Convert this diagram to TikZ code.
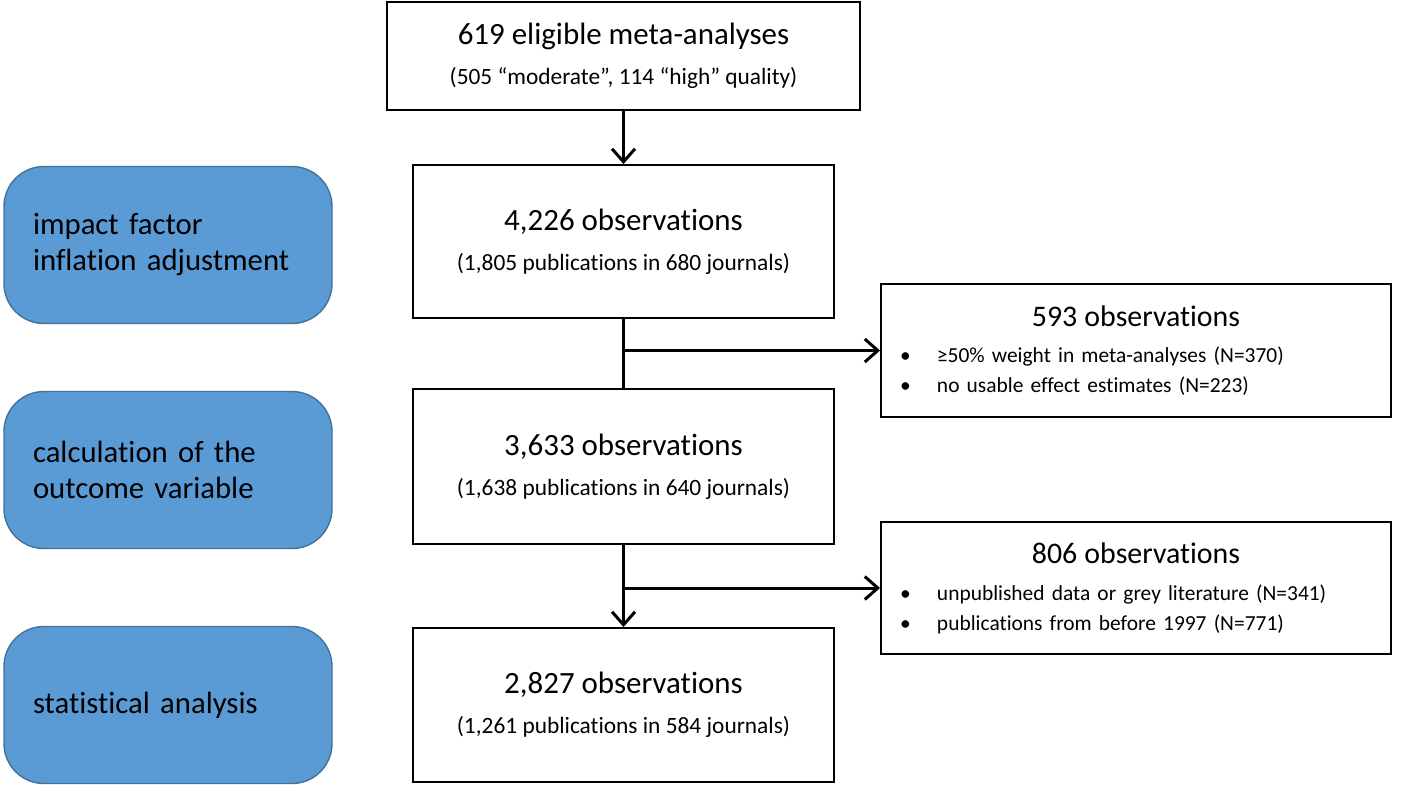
\documentclass[tikz,border=0pt]{standalone}
\usepackage{fontspec}
\setmainfont{Carlito}[Ligatures=NoCommon]
\usepackage{xcolor}
\usetikzlibrary{arrows.meta}
\definecolor{stageblue}{HTML}{5B9BD5}
\definecolor{stageedge}{HTML}{41719C}
\newcommand{\bigtxt}{\fontsize{17.6}{19}\selectfont}
\newcommand{\exttl}{\fontsize{17}{19}\selectfont}
\newcommand{\bulletline}[1]{\makebox[\linewidth][l]{\hspace*{0.38cm}\makebox[0.74cm][l]{\textbullet}#1}}

\begin{document}
\begin{tikzpicture}[
  flowbox/.style={draw=black, line width=1.1pt, fill=white, align=center, inner sep=0pt, font=\fontsize{13.3}{16}\selectfont},
  stage/.style={draw=stageedge, line width=0.8pt, fill=stageblue, rounded corners=0.8cm, minimum width=6.56cm, minimum height=3.14cm, text width=5.4cm, align=left, font=\fontsize{17.5}{20.5}\selectfont},
  exbox/.style={draw=black, line width=1.1pt, fill=white, text width=10.2cm, minimum height=2.66cm, inner sep=0pt, align=center, font=\fontsize{12.2}{17}\selectfont},
  arrow/.style={-{Straight Barb[length=2.6mm, width=4.6mm, line width=1.7pt]}, line width=1.7pt},
  link/.style={line width=1.7pt}
]
\useasboundingbox[fill=white] (0,0) rectangle (28.32,-15.72);

% Main flow
\node[flowbox, minimum width=9.46cm, minimum height=2.16cm] (meta) at (12.47,-1.12)
  {{\bigtxt 619 eligible meta-analyses}\\[7pt](505 “moderate”, 114 “high” quality)};
\node[flowbox, minimum width=8.42cm, minimum height=3.06cm] (obs1) at (12.47,-4.83)
  {{\bigtxt 4,226 observations}\\[7pt](1,805 publications in 680 journals)};
\node[flowbox, minimum width=8.42cm, minimum height=3.1cm] (obs2) at (12.47,-9.33)
  {{\bigtxt 3,633 observations}\\[7pt](1,638 publications in 640 journals)};
\node[flowbox, minimum width=8.42cm, minimum height=3.08cm] (obs3) at (12.47,-14.1)
  {{\bigtxt 2,827 observations}\\[7pt](1,261 publications in 584 journals)};

% Stages
\node[stage] (infl) at (3.36,-4.9) {impact factor\\inflation adjustment};
\node[stage] (calc) at (3.36,-9.4) {calculation of the\\outcome variable};
\node[stage] (stat) at (3.36,-14.1) {statistical analysis};

% Excluded
\node[exbox] (excl1) at (22.72,-7.01)
  {{\exttl 593 observations}\\[4pt]
   \bulletline{≥50\% weight in meta-analyses (N=370)}\\
   \bulletline{no usable effect estimates (N=223)}};
\node[exbox, minimum height=2.64cm] (excl2) at (22.72,-11.76)
  {{\exttl 806 observations}\\[4pt]
   \bulletline{unpublished data or grey literature (N=341)}\\
   \bulletline{publications from before 1997 (N=771)}};

% Arrows
\coordinate (split1) at (obs1.south |- excl1.west);
\coordinate (split2) at (obs2.south |- excl2.west);
\draw[arrow] (meta.south) -- (obs1.north);
\draw[link] (obs1.south) -- (obs2.north);
\draw[arrow] (split1) -- (excl1.west);
\draw[arrow] (obs2.south) -- (obs3.north);
\draw[arrow] (split2) -- (excl2.west);

\end{tikzpicture}
\end{document}
